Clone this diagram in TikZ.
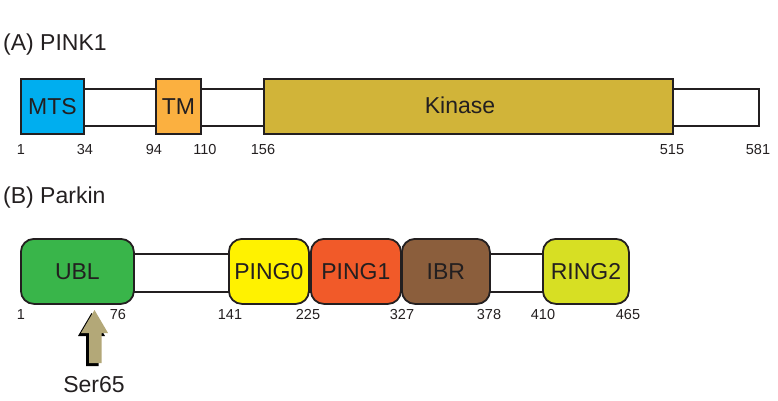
\documentclass[tikz,border=0pt]{standalone}
\usepackage{fontspec}
\setmainfont{Liberation Sans}
\definecolor{ink}{HTML}{231F20}
\definecolor{cmts}{HTML}{00AEEF}
\definecolor{ctm}{HTML}{FBB040}
\definecolor{ckin}{HTML}{D1B439}
\definecolor{cubl}{HTML}{39B54A}
\definecolor{cping0}{HTML}{FFF200}
\definecolor{cping1}{HTML}{F15A29}
\definecolor{cibr}{HTML}{8B5E3C}
\definecolor{cring}{HTML}{D7DF23}
\definecolor{ckhaki}{HTML}{B3A878}
\tikzset{
  bar/.style={draw=ink, line width=1.8pt, fill=white, inner sep=0pt, anchor=north west},
  dom/.style={draw=ink, line width=1.8pt, inner sep=0pt, anchor=north west, text=ink,
              font=\fontsize{23}{27}\selectfont},
  rdom/.style={dom, rounded corners=13pt},
  num/.style={anchor=base, inner sep=0pt, text=ink, font=\fontsize{14.5}{17}\selectfont},
  ttl/.style={anchor=base west, inner sep=0pt, text=ink, font=\fontsize{23}{27}\selectfont},
}
\begin{document}
\begin{tikzpicture}[x=1pt,y=-1pt]
\useasboundingbox (0,0) rectangle (778,400);
% titles
\node[ttl] (ta) at (3,50) {(A) PINK1};
\node[ttl] (tb) at (3,203) {(B) Parkin};
% PINK1
\node[bar, minimum width=738pt, minimum height=37pt] (pbar) at (20,88) {};
\node[dom, fill=cmts, minimum width=63pt, minimum height=55pt] (mts) at (20,78) {MTS};
\node[dom, fill=ctm, minimum width=45pt, minimum height=55pt] (tm) at (155,78) {TM};
\node[dom, fill=ckin, minimum width=409pt, minimum height=55pt] (kin) at (263,78) {};
\node[inner sep=0pt, text=ink, font=\fontsize{23}{27}\selectfont] (kinl) at (460,105) {Kinase};
\node[num] (a1) at (21,154) {1};
\node[num] (a34) at (85,154) {34};
\node[num] (a94) at (154,154) {94};
\node[num] (a110) at (205,154) {110};
\node[num] (a156) at (263,154) {156};
\node[num] (a515) at (672,154) {515};
\node[num] (a581) at (758,154) {581};
% Parkin
\node[bar, minimum width=495pt, minimum height=38pt] (kbar) at (120,253) {};
\node[rdom, fill=cubl, minimum width=113pt, minimum height=65pt] (ubl) at (20,238) {UBL};
\node[rdom, fill=cping0, minimum width=80pt, minimum height=65pt] (p0) at (228,238) {PING0};
\node[rdom, fill=cping1, minimum width=90pt, minimum height=65pt] (p1) at (310,238) {PING1};
\node[rdom, fill=cibr, minimum width=88pt, minimum height=65pt] (ibr) at (401,238) {IBR};
\node[rdom, fill=cring, minimum width=86pt, minimum height=65pt] (r2) at (542,238) {RING2};
\node[num] (b1) at (21,319) {1};
\node[num] (b76) at (118,319) {76};
\node[num] (b141) at (230,319) {141};
\node[num] (b225) at (308,319) {225};
\node[num] (b327) at (402,319) {327};
\node[num] (b378) at (489,319) {378};
\node[num] (b410) at (543,319) {410};
\node[num] (b465) at (628,319) {465};
% Ser65 arrow
\fill[black] (91.5,313) -- (105,336) -- (98.5,336) -- (98.5,366) -- (86,366) -- (86,336) -- (78,336) -- cycle;
\fill[ckhaki] (94.5,310) -- (108,333) -- (101.5,333) -- (101.5,363) -- (89,363) -- (89,333) -- (81,333) -- cycle;
\node[anchor=base, inner sep=0pt, text=ink, font=\fontsize{23}{27}\selectfont] (ser) at (94,392) {Ser65};
\end{tikzpicture}
\end{document}
